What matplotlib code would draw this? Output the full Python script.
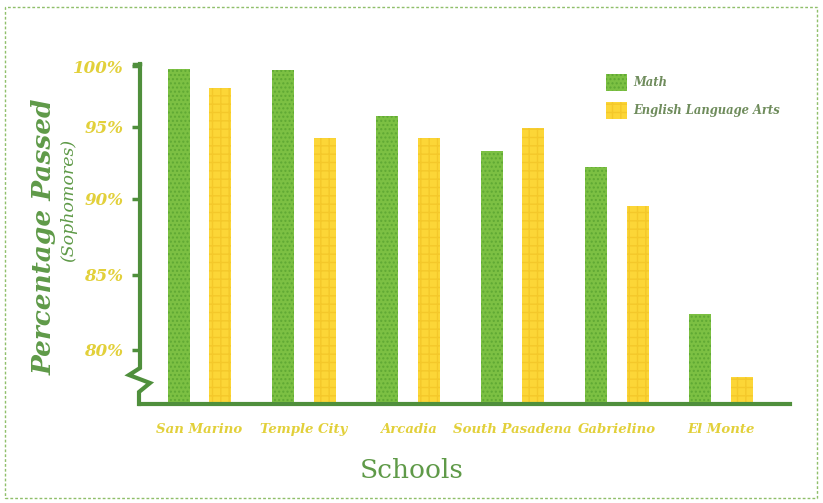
import numpy as np
import matplotlib
matplotlib.use("Agg")
import matplotlib.pyplot as plt
from matplotlib.lines import Line2D
from matplotlib.patches import Rectangle, Patch

schools = ["San Marino", "Temple City", "Arcadia", "South Pasadena", "Gabrielino", "El Monte"]
math_vals = [99.8, 99.7, 95.9, 93.3, 92.2, 82.4]
ela_vals = [98.2, 94.2, 94.2, 94.9, 89.5, 78.2]
y_ticks = [80, 85, 90, 95, 100]
y_tick_labels = ["80%", "85%", "90%", "95%", "100%"]

# uneven spacing of the printed axis (value -> relative position)
_vals = np.array([60, 80, 85, 90, 95, 100, 120])
_pos = np.array([-300, 0, 75, 151, 223, 283, 523], dtype=float)

def fwd(v):
    return np.interp(v, _vals, _pos)

def inv(p):
    return np.interp(p, _pos, _vals)

W, H = 823, 503
fig = plt.figure(figsize=(W / 100, H / 100), dpi=100)
fig.patch.set_facecolor("white")

L, R, T, B = 140, 790, 64, 404
ax = fig.add_axes([L / W, 1 - B / H, (R - L) / W, (B - T) / H])
ax.set_yscale("function", functions=(fwd, inv))
base = 76.4
ax.set_ylim(base, 100.2)
ax.set_xlim(-0.57, 5.66)

GREEN = "#7cc043"
GREEN_H = "#5fa834"
YELLOW = "#fcd637"
YELLOW_H = "#f4c82a"
DARK = "#4f8f3c"
TICKC = "#e2d03a"

x = np.arange(len(schools))
bw = 0.21
off = 0.2
ax.bar(x - off, np.array(math_vals) - base, bottom=base, width=bw,
       color=GREEN, edgecolor=GREEN_H, linewidth=0, hatch="....")
ax.bar(x + off, np.array(ela_vals) - base, bottom=base, width=bw,
       color=YELLOW, edgecolor=YELLOW_H, linewidth=0, hatch="++")

for s in ["top", "right", "left"]:
    ax.spines[s].set_visible(False)
ax.spines["bottom"].set_color(DARK)
ax.spines["bottom"].set_linewidth(3)
ax.set_facecolor("none")

ax.set_yticks(y_ticks)
ax.set_yticklabels(y_tick_labels)
ax.tick_params(axis="y", length=6, width=2.5, color=DARK, pad=6)
ax.set_xticks(x)
ax.set_xticklabels(schools)
ax.tick_params(axis="x", length=0, pad=14)
for lab in ax.get_yticklabels():
    lab.set_fontfamily("DejaVu Serif")
    lab.set_fontstyle("italic")
    lab.set_fontweight("bold")
    lab.set_fontsize(12)
    lab.set_color(TICKC)
for lab in ax.get_xticklabels():
    lab.set_fontfamily("DejaVu Serif")
    lab.set_fontstyle("italic")
    lab.set_fontweight("bold")
    lab.set_fontsize(9.5)
    lab.set_color(TICKC)

# left axis line with break (figure pixel coords)
def fx(px):
    return px / W

def fy(py):
    return 1 - py / H

pts = [(140, 64), (140, 368), (129, 375), (150, 383), (139, 392), (139, 404)]
fig.add_artist(Line2D([fx(p[0]) for p in pts], [fy(p[1]) for p in pts],
                      color=DARK, lw=3, solid_joinstyle="miter"))
fig.add_artist(Line2D([fx(140), fx(134)], [fy(64), fy(64)], color=DARK, lw=2.5))

# border
fig.add_artist(Rectangle((fx(5), fy(498)), fx(817) - fx(5), fy(7) - fy(498),
                         fill=False, edgecolor="#8fbf6a", lw=1, ls=(0, (2, 1.5))))

# axis titles
fig.text(fx(44), fy(237), "Percentage Passed", rotation=90, ha="center", va="center",
         fontsize=19, fontfamily="DejaVu Serif", fontstyle="italic", fontweight="bold",
         color="#5f9a48")
fig.text(fx(69), fy(200), "(Sophomores)", rotation=90, ha="center", va="center",
         fontsize=12.5, fontfamily="DejaVu Serif", fontstyle="italic", color="#5f9a48")
fig.text(fx(412), fy(471), "Schools", ha="center", va="center",
         fontsize=19, fontfamily="DejaVu Serif", color="#5f9a48")

# legend
handles = [Patch(facecolor=GREEN, edgecolor=GREEN_H, hatch="....", linewidth=0, label="Math"),
           Patch(facecolor=YELLOW, edgecolor=YELLOW_H, hatch="++", linewidth=0,
                 label="English Language Arts")]
leg = fig.legend(handles=handles, loc="upper left", bbox_to_anchor=(fx(596), fy(64)),
                 frameon=False, handlelength=1.8, handleheight=1.8, handletextpad=0.5,
                 labelspacing=1.0,
                 prop={"family": "DejaVu Serif", "style": "italic", "weight": "bold", "size": 8.3})
for t in leg.get_texts():
    t.set_color("#6f8c5c")

fig.savefig("out.png", dpi=100, facecolor="white")
